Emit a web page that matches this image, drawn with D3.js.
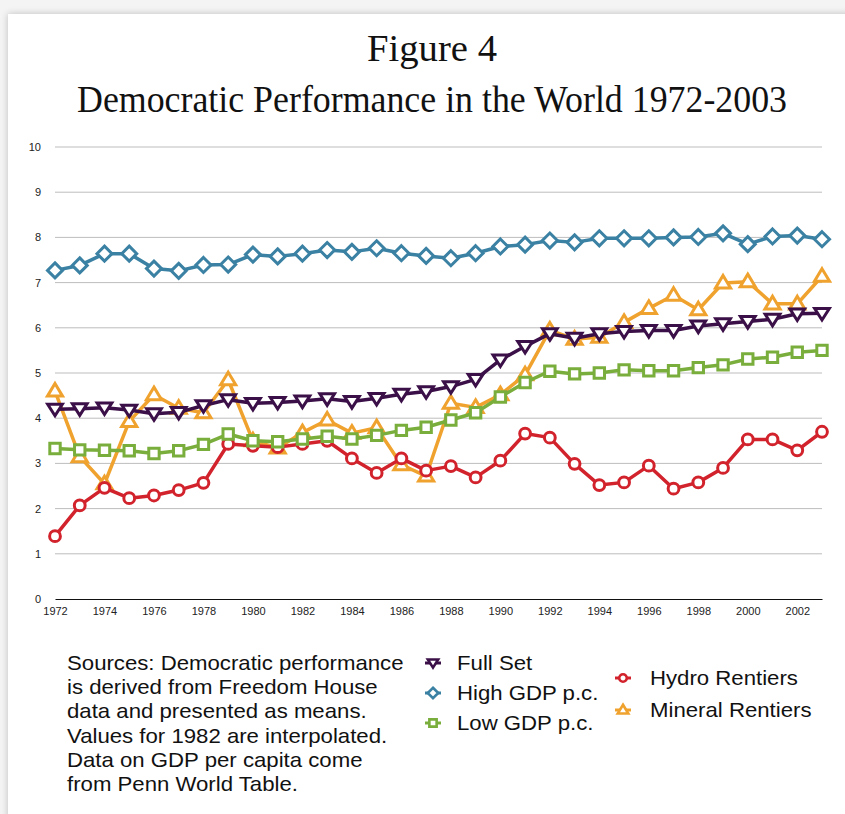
<!DOCTYPE html>
<html>
<head>
<meta charset="utf-8">
<script src="https://cdn.jsdelivr.net/npm/d3@7"></script>
<style>
  html, body { margin: 0; padding: 0; background: #f4f4f4; }
  #page { position: absolute; left: 8px; top: 14px; width: 845px; height: 814px; background: #fff;
          box-shadow: 0 0 7px rgba(0,0,0,0.22); }
  svg { position: absolute; left: 0; top: 0; }
</style>
</head>
<body>
<div id="page"></div>
<svg id="chart" width="845" height="814"></svg>
<script>
// years on the x axis
const years = d3.range(1972, 2004);
const yTicks = [0, 1, 2, 3, 4, 5, 6, 7, 8, 9, 10];
const xTickYears = d3.range(1972, 2004, 2);

const fullSet = [4.20, 4.21, 4.23, 4.18, 4.10, 4.13, 4.28, 4.41, 4.33, 4.35, 4.38, 4.43, 4.37, 4.44, 4.53, 4.59,
  4.70, 4.86, 5.29, 5.59, 5.87, 5.77, 5.87, 5.92, 5.94, 5.94, 6.04, 6.09, 6.14, 6.19, 6.31, 6.32];
const highGdp = [7.27, 7.38, 7.64, 7.64, 7.31, 7.26, 7.39, 7.40, 7.62, 7.58, 7.64, 7.72, 7.68, 7.76, 7.65, 7.59,
  7.54, 7.65, 7.80, 7.84, 7.93, 7.89, 7.98, 7.98, 7.98, 8.00, 8.01, 8.09, 7.85, 8.02, 8.04, 7.96];
const lowGdp = [3.33, 3.30, 3.29, 3.28, 3.22, 3.28, 3.42, 3.65, 3.50, 3.48, 3.54, 3.60, 3.54, 3.62, 3.73, 3.80,
  3.96, 4.12, 4.47, 4.79, 5.04, 4.98, 5.00, 5.07, 5.05, 5.05, 5.12, 5.18, 5.31, 5.35, 5.46, 5.50];
const hydro = [1.39, 2.07, 2.46, 2.23, 2.29, 2.41, 2.57, 3.43, 3.39, 3.36, 3.43, 3.50, 3.11, 2.79, 3.11, 2.84,
  2.94, 2.69, 3.06, 3.66, 3.57, 2.99, 2.52, 2.58, 2.95, 2.44, 2.58, 2.90, 3.53, 3.53, 3.29, 3.70];
const mineral = [4.60, 3.15, 2.55, 3.93, 4.52, 4.22, 4.12, 4.85, 3.50, 3.34, 3.68, 3.96, 3.67, 3.79, 2.97, 2.72,
  4.33, 4.24, 4.52, 4.96, 5.95, 5.75, 5.79, 6.12, 6.43, 6.72, 6.40, 6.99, 7.02, 6.53, 6.53, 7.14];

const series = [
  {name: "Mineral Rentiers", values: mineral, color: "#f0a22e", marker: "up"},
  {name: "Hydro Rentiers", values: hydro, color: "#d2232d", marker: "circle"},
  {name: "Low GDP p.c.", values: lowGdp, color: "#7aae3c", marker: "square"},
  {name: "High GDP p.c.", values: highGdp, color: "#3a81a3", marker: "diamond"},
  {name: "Full Set", values: fullSet, color: "#3b0f47", marker: "down"}
];

const svg = d3.select("#chart");
const margin = {left: 55, right: 23, top: 147, bottom: 215};
const width = 845 - margin.left - margin.right,
      height = 814 - margin.top - margin.bottom;

const x = d3.scaleLinear().domain([1972, 2003]).range([0, width]);
const y = d3.scaleLinear().domain([0, 10]).range([height, 0]);

function markerPath(type, s) {
  // s = half size
  if (type == "diamond") return "M0," + (-s) + "L" + s + ",0L0," + s + "L" + (-s) + ",0Z";
  if (type == "square") return "M" + (-s) + "," + (-s) + "H" + s + "V" + s + "H" + (-s) + "Z";
  if (type == "up") return "M0," + (-s * 1.05) + "L" + (s * 1.05) + "," + (s * 0.7) + "L" + (-s * 1.05) + "," + (s * 0.7) + "Z";
  if (type == "down") return "M0," + (s * 0.95) + "L" + (s * 1.05) + "," + (-s * 0.7) + "L" + (-s * 1.05) + "," + (-s * 0.7) + "Z";
  return d3.arc()({innerRadius: 0, outerRadius: s, startAngle: 0, endAngle: 2 * Math.PI});
}
const markerSize = {diamond: 7.5, square: 5.2, up: 7.2, down: 7, circle: 5.4};

// titles
svg.append("text")
  .attr("x", 432).attr("y", 61)
  .attr("text-anchor", "middle")
  .attr("textLength", 130).attr("lengthAdjust", "spacingAndGlyphs")
  .style("font-family", "'Liberation Serif', 'DejaVu Serif', serif")
  .style("font-size", "37px")
  .style("fill", "#111")
  .text("Figure 4");
svg.append("text")
  .attr("x", 432).attr("y", 112)
  .attr("text-anchor", "middle")
  .attr("textLength", 710).attr("lengthAdjust", "spacingAndGlyphs")
  .style("font-family", "'Liberation Serif', 'DejaVu Serif', serif")
  .style("font-size", "37px")
  .style("fill", "#111")
  .text("Democratic Performance in the World 1972-2003");

const g = svg.append("g").attr("transform", "translate(" + margin.left + "," + margin.top + ")");

// grid
g.selectAll(".grid").data(yTicks.filter(d => d > 0)).enter()
  .append("line")
  .attr("x1", 0).attr("x2", width)
  .attr("y1", d => y(d)).attr("y2", d => y(d))
  .attr("stroke", "#bdbdbd").attr("stroke-width", 1);

// y axis labels
const yAxis = g.append("g").call(d3.axisLeft(y).tickValues(yTicks).tickSize(0).tickPadding(14));
yAxis.select(".domain").remove();
yAxis.selectAll("text").style("font-family", "'Liberation Sans', Arial, sans-serif").style("font-size", "11px").attr("fill", "#222");

// x axis
const xAxis = g.append("g").attr("transform", "translate(0," + height + ")")
  .call(d3.axisBottom(x).tickValues(xTickYears).tickFormat(d3.format("d")).tickSize(0).tickPadding(8));
xAxis.select(".domain").attr("stroke", "#111").attr("stroke-width", 1.2);
xAxis.selectAll("text").style("font-family", "'Liberation Sans', Arial, sans-serif").style("font-size", "11px").attr("fill", "#222");

const line = d3.line()
  .x((d, i) => x(years[i]))
  .y(d => y(d));

const sg = g.selectAll(".series").data(series).enter().append("g").attr("class", "series");
sg.append("path")
  .attr("d", d => line(d.values))
  .attr("fill", "none")
  .attr("stroke", d => d.color)
  .attr("stroke-width", 3.5)
  .attr("stroke-linejoin", "round");
sg.each(function(s) {
  d3.select(this).selectAll(".pt").data(s.values).enter()
    .append("path")
    .attr("transform", (d, i) => "translate(" + x(years[i]) + "," + y(d) + ")")
    .attr("d", markerPath(s.marker, markerSize[s.marker]))
    .attr("fill", "#fff")
    .attr("stroke", s.color)
    .attr("stroke-width", 3);
});

// sources note (text in the original is a bit wider than it is tall)
const noteLines = ["Sources: Democratic performance", "is derived from Freedom House", "data and presented as means.",
  "Values for 1982 are interpolated.", "Data on GDP per capita come", "from Penn World Table."];
svg.append("g").attr("transform", "translate(67,0) scale(1.11,1)")
  .selectAll("text").data(noteLines).enter()
  .append("text")
  .attr("x", 0).attr("y", (d, i) => 670 + i * 24.2)
  .style("font-family", "'Liberation Sans', Arial, sans-serif")
  .style("font-size", "20px")
  .attr("fill", "#111")
  .text(d => d);

// legend
const legendItems = [
  {s: series[4], x: 433, y: 663},
  {s: series[3], x: 433, y: 693},
  {s: series[2], x: 433, y: 723},
  {s: series[1], x: 623, y: 678},
  {s: series[0], x: 623, y: 710}
];
const lg = svg.append("g").selectAll("g").data(legendItems).enter()
  .append("g").attr("transform", d => "translate(" + d.x + "," + d.y + ")");
lg.append("line").attr("x1", -8).attr("x2", 8).attr("stroke", d => d.s.color).attr("stroke-width", 3);
lg.append("path")
  .attr("d", d => markerPath(d.s.marker, markerSize[d.s.marker] * 0.7))
  .attr("fill", "#fff").attr("stroke", d => d.s.color).attr("stroke-width", 2.6);
lg.append("text")
  .attr("transform", d => "translate(" + (d.x > 500 ? 27 : 24) + ",7) scale(1.11,1)")
  .style("font-family", "'Liberation Sans', Arial, sans-serif")
  .style("font-size", "20px")
  .attr("fill", "#111")
  .text(d => d.s.name);
</script>
</body>
</html>
